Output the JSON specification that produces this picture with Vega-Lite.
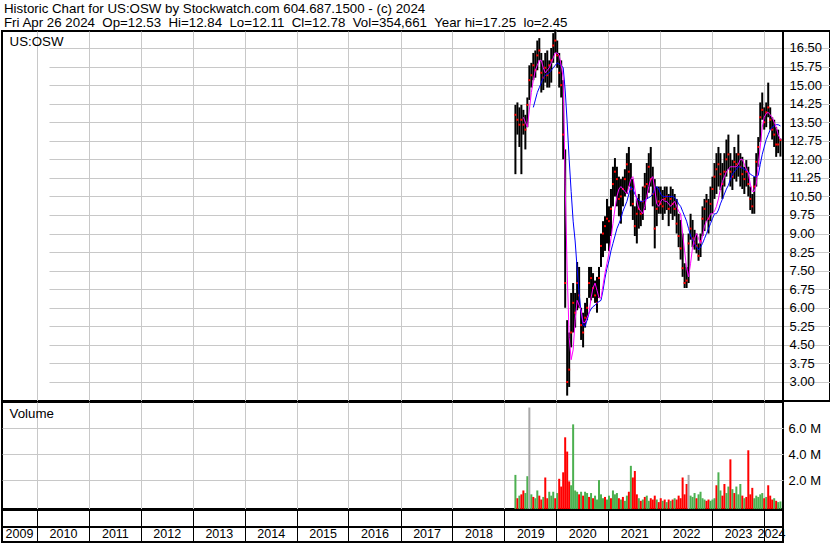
{
"$schema": "https://vega.github.io/schema/vega-lite/v6.json",
"padding": {"top": 2, "left": 0, "right": 0, "bottom": 0},
"background": "white",
"spacing": 1,
"bounds": "flush",
"title": {"text": ["Historic Chart for US:OSW by Stockwatch.com 604.687.1500 - (c) 2024", "Fri Apr 26 2024\u00a0 Op=12.53\u00a0 Hi=12.84\u00a0 Lo=12.11\u00a0 Cl=12.78\u00a0 Vol=354,661\u00a0 Year hi=17.25\u00a0 lo=2.45"], "anchor": "start", "frame": "group", "font": "Liberation Sans", "fontSize": 13.3, "fontWeight": "normal", "color": "black", "lineHeight": 14, "offset": -2, "dx": 2},
"config": {
  "view": {"stroke": "black", "strokeWidth": 2},
  "axis": {"labelFont": "Liberation Sans", "labelFontSize": 12, "labelColor": "black", "gridColor": "#C8C8C8", "gridOpacity": 1, "gridWidth": 1},
  "text": {"font": "Liberation Sans", "color": "black"}
},
"datasets": {
"px": [
{"d":"2019-03-20","h":14.2,"l":11.4,"c":13.8,"m1":null,"m2":null,"v":2.4,"s":"up"},
{"d":"2019-04-03","h":14.3,"l":13.0,"c":13.6,"m1":null,"m2":null,"v":0.6,"s":"down"},
{"d":"2019-04-17","h":14.1,"l":12.5,"c":13.4,"m1":null,"m2":null,"v":0.8,"s":"up"},
{"d":"2019-05-01","h":14.2,"l":11.4,"c":13.6,"m1":null,"m2":null,"v":0.9,"s":"down"},
{"d":"2019-05-15","h":14.0,"l":13.0,"c":13.4,"m1":13.7,"m2":null,"v":1.2,"s":"down"},
{"d":"2019-05-29","h":13.8,"l":12.4,"c":13.2,"m1":13.5,"m2":null,"v":1.0,"s":"up"},
{"d":"2019-06-12","h":14.5,"l":13.3,"c":14.2,"m1":13.3,"m2":null,"v":2.3,"s":"up"},
{"d":"2019-06-26","h":15.8,"l":14.4,"c":15.2,"m1":14.0,"m2":null,"v":7.6,"s":"flat"},
{"d":"2019-07-10","h":15.9,"l":14.9,"c":15.4,"m1":14.7,"m2":null,"v":0.9,"s":"up"},
{"d":"2019-07-24","h":16.3,"l":15.2,"c":15.8,"m1":15.2,"m2":14.1,"v":0.7,"s":"down"},
{"d":"2019-08-07","h":16.4,"l":15.3,"c":15.6,"m1":15.6,"m2":14.4,"v":0.6,"s":"up"},
{"d":"2019-08-21","h":16.8,"l":15.6,"c":16.2,"m1":15.8,"m2":14.7,"v":1.2,"s":"up"},
{"d":"2019-09-04","h":16.9,"l":16.0,"c":16.4,"m1":16.0,"m2":14.9,"v":0.8,"s":"down"},
{"d":"2019-09-18","h":16.3,"l":14.7,"c":15.5,"m1":16.0,"m2":15.1,"v":0.5,"s":"down"},
{"d":"2019-10-02","h":16.0,"l":14.8,"c":15.3,"m1":15.7,"m2":15.3,"v":0.7,"s":"up"},
{"d":"2019-10-16","h":16.3,"l":15.1,"c":15.7,"m1":15.5,"m2":15.4,"v":2.2,"s":"down"},
{"d":"2019-10-30","h":16.4,"l":14.9,"c":15.4,"m1":15.6,"m2":15.45,"v":0.6,"s":"down"},
{"d":"2019-11-13","h":16.0,"l":14.9,"c":15.8,"m1":15.7,"m2":15.5,"v":1.1,"s":"up"},
{"d":"2019-11-27","h":16.5,"l":15.1,"c":16.0,"m1":15.9,"m2":15.6,"v":0.8,"s":"up"},
{"d":"2019-12-11","h":17.1,"l":15.9,"c":16.6,"m1":16.1,"m2":15.7,"v":1.1,"s":"up"},
{"d":"2019-12-25","h":17.25,"l":16.3,"c":16.8,"m1":16.3,"m2":15.8,"v":0.6,"s":"down"},
{"d":"2020-01-08","h":16.8,"l":15.7,"c":16.2,"m1":16.3,"m2":15.9,"v":1.0,"s":"up"},
{"d":"2020-01-22","h":16.3,"l":14.9,"c":15.5,"m1":16.2,"m2":15.85,"v":2.1,"s":"down"},
{"d":"2020-02-05","h":16.0,"l":14.5,"c":15.0,"m1":15.8,"m2":15.8,"v":1.5,"s":"down"},
{"d":"2020-02-19","h":15.2,"l":12.0,"c":13.0,"m1":15.3,"m2":15.7,"v":2.6,"s":"down"},
{"d":"2020-03-04","h":12.4,"l":6.0,"c":7.0,"m1":11.0,"m2":14.8,"v":5.3,"s":"down"},
{"d":"2020-03-18","h":5.5,"l":2.45,"c":3.0,"m1":7.5,"m2":13.5,"v":4.2,"s":"down"},
{"d":"2020-04-01","h":5.0,"l":2.8,"c":3.5,"m1":4.8,"m2":12.0,"v":1.9,"s":"down"},
{"d":"2020-04-15","h":6.6,"l":4.4,"c":5.0,"m1":3.9,"m2":10.7,"v":1.6,"s":"up"},
{"d":"2020-04-29","h":7.0,"l":5.0,"c":6.2,"m1":4.3,"m2":9.5,"v":6.3,"s":"up"},
{"d":"2020-05-13","h":6.6,"l":5.2,"c":5.8,"m1":5.5,"m2":8.7,"v":1.2,"s":"up"},
{"d":"2020-05-27","h":7.85,"l":5.9,"c":7.0,"m1":6.3,"m2":7.6,"v":1.1,"s":"up"},
{"d":"2020-06-10","h":7.65,"l":6.0,"c":6.5,"m1":6.1,"m2":6.6,"v":0.9,"s":"down"},
{"d":"2020-06-24","h":6.0,"l":4.7,"c":5.3,"m1":5.9,"m2":5.8,"v":1.1,"s":"up"},
{"d":"2020-07-08","h":5.8,"l":4.4,"c":5.0,"m1":5.4,"m2":5.3,"v":0.8,"s":"down"},
{"d":"2020-07-22","h":6.2,"l":5.2,"c":5.6,"m1":5.4,"m2":5.25,"v":1.1,"s":"up"},
{"d":"2020-08-05","h":6.4,"l":5.5,"c":6.0,"m1":5.6,"m2":5.5,"v":1.0,"s":"up"},
{"d":"2020-08-19","h":7.65,"l":6.4,"c":7.0,"m1":5.8,"m2":5.8,"v":0.7,"s":"down"},
{"d":"2020-09-02","h":7.65,"l":6.3,"c":7.2,"m1":6.4,"m2":5.95,"v":1.0,"s":"up"},
{"d":"2020-09-16","h":7.4,"l":6.4,"c":6.8,"m1":6.8,"m2":6.05,"v":0.6,"s":"down"},
{"d":"2020-09-30","h":7.1,"l":6.2,"c":6.5,"m1":7.0,"m2":6.1,"v":0.8,"s":"up"},
{"d":"2020-10-14","h":7.25,"l":5.8,"c":6.2,"m1":6.7,"m2":6.2,"v":0.5,"s":"up"},
{"d":"2020-10-28","h":7.65,"l":6.4,"c":7.2,"m1":6.4,"m2":6.25,"v":2.0,"s":"up"},
{"d":"2020-11-11","h":9.0,"l":7.65,"c":8.5,"m1":6.4,"m2":6.3,"v":0.9,"s":"up"},
{"d":"2020-11-25","h":9.5,"l":8.05,"c":9.0,"m1":6.9,"m2":6.7,"v":0.6,"s":"up"},
{"d":"2020-12-09","h":9.7,"l":8.3,"c":9.3,"m1":7.4,"m2":7.2,"v":0.7,"s":"down"},
{"d":"2020-12-23","h":10.4,"l":8.6,"c":9.6,"m1":7.8,"m2":7.6,"v":0.5,"s":"up"},
{"d":"2021-01-06","h":10.1,"l":8.3,"c":9.5,"m1":8.2,"m2":7.9,"v":0.8,"s":"up"},
{"d":"2021-01-20","h":10.8,"l":8.9,"c":10.0,"m1":8.8,"m2":8.3,"v":0.6,"s":"down"},
{"d":"2021-02-03","h":11.7,"l":10.1,"c":11.0,"m1":9.4,"m2":8.6,"v":1.2,"s":"up"},
{"d":"2021-02-17","h":12.05,"l":10.5,"c":11.5,"m1":10.0,"m2":8.9,"v":0.9,"s":"up"},
{"d":"2021-03-03","h":11.7,"l":10.1,"c":11.2,"m1":10.5,"m2":9.2,"v":1.0,"s":"up"},
{"d":"2021-03-17","h":11.3,"l":9.7,"c":10.4,"m1":10.8,"m2":9.4,"v":0.6,"s":"down"},
{"d":"2021-03-31","h":11.2,"l":9.4,"c":10.5,"m1":10.9,"m2":9.6,"v":0.5,"s":"up"},
{"d":"2021-04-14","h":11.3,"l":10.1,"c":10.8,"m1":10.8,"m2":9.9,"v":0.7,"s":"down"},
{"d":"2021-04-28","h":11.6,"l":10.5,"c":11.2,"m1":10.7,"m2":10.1,"v":0.4,"s":"up"},
{"d":"2021-05-12","h":12.25,"l":10.6,"c":11.8,"m1":10.6,"m2":10.3,"v":0.8,"s":"up"},
{"d":"2021-05-26","h":12.5,"l":10.9,"c":11.5,"m1":10.9,"m2":10.6,"v":1.1,"s":"down"},
{"d":"2021-06-09","h":11.85,"l":10.1,"c":10.8,"m1":11.2,"m2":10.9,"v":3.1,"s":"up"},
{"d":"2021-06-23","h":11.2,"l":9.55,"c":10.2,"m1":11.3,"m2":10.8,"v":2.2,"s":"down"},
{"d":"2021-07-07","h":10.1,"l":8.9,"c":9.3,"m1":10.8,"m2":10.6,"v":2.7,"s":"down"},
{"d":"2021-07-21","h":10.4,"l":8.6,"c":9.8,"m1":10.3,"m2":10.45,"v":0.9,"s":"down"},
{"d":"2021-08-04","h":10.6,"l":9.2,"c":10.0,"m1":10.0,"m2":10.35,"v":0.6,"s":"up"},
{"d":"2021-08-18","h":10.3,"l":9.3,"c":9.8,"m1":9.9,"m2":10.3,"v":0.4,"s":"down"},
{"d":"2021-09-01","h":10.9,"l":9.55,"c":10.3,"m1":9.8,"m2":10.3,"v":0.5,"s":"up"},
{"d":"2021-09-15","h":11.45,"l":9.95,"c":10.9,"m1":10.1,"m2":10.35,"v":0.7,"s":"down"},
{"d":"2021-09-29","h":11.85,"l":10.4,"c":11.0,"m1":10.5,"m2":10.4,"v":0.8,"s":"up"},
{"d":"2021-10-13","h":12.25,"l":10.65,"c":11.7,"m1":10.9,"m2":10.45,"v":0.4,"s":"up"},
{"d":"2021-10-27","h":12.5,"l":10.9,"c":11.2,"m1":11.2,"m2":10.5,"v":0.6,"s":"down"},
{"d":"2021-11-10","h":11.7,"l":10.1,"c":10.6,"m1":11.3,"m2":10.6,"v":0.5,"s":"down"},
{"d":"2021-11-24","h":11.2,"l":8.4,"c":9.2,"m1":10.8,"m2":10.8,"v":0.8,"s":"down"},
{"d":"2021-12-08","h":10.9,"l":9.3,"c":10.0,"m1":10.2,"m2":10.9,"v":0.5,"s":"up"},
{"d":"2021-12-22","h":10.9,"l":9.8,"c":10.3,"m1":10.1,"m2":10.8,"v":0.3,"s":"down"},
{"d":"2022-01-05","h":10.9,"l":9.8,"c":10.2,"m1":10.3,"m2":10.6,"v":0.6,"s":"down"},
{"d":"2022-01-19","h":10.76,"l":9.55,"c":10.1,"m1":10.4,"m2":10.5,"v":0.4,"s":"up"},
{"d":"2022-02-02","h":10.9,"l":9.8,"c":10.4,"m1":10.3,"m2":10.5,"v":0.5,"s":"down"},
{"d":"2022-02-16","h":10.9,"l":9.95,"c":10.5,"m1":10.3,"m2":10.5,"v":0.3,"s":"up"},
{"d":"2022-03-02","h":10.6,"l":9.3,"c":10.0,"m1":10.2,"m2":10.5,"v":0.5,"s":"down"},
{"d":"2022-03-16","h":10.9,"l":9.8,"c":10.4,"m1":10.1,"m2":10.5,"v":0.4,"s":"up"},
{"d":"2022-03-30","h":10.8,"l":9.55,"c":10.2,"m1":10.2,"m2":10.5,"v":0.5,"s":"down"},
{"d":"2022-04-13","h":10.6,"l":9.7,"c":10.0,"m1":10.3,"m2":10.45,"v":0.6,"s":"up"},
{"d":"2022-04-27","h":10.4,"l":9.0,"c":9.4,"m1":10.1,"m2":10.35,"v":0.5,"s":"down"},
{"d":"2022-05-11","h":9.8,"l":8.45,"c":8.9,"m1":9.9,"m2":10.2,"v":0.8,"s":"down"},
{"d":"2022-05-25","h":9.55,"l":7.95,"c":8.4,"m1":9.8,"m2":10.1,"v":0.6,"s":"down"},
{"d":"2022-06-08","h":9.0,"l":7.25,"c":7.6,"m1":9.0,"m2":9.9,"v":2.2,"s":"down"},
{"d":"2022-06-22","h":7.8,"l":6.8,"c":7.0,"m1":8.3,"m2":9.7,"v":0.9,"s":"down"},
{"d":"2022-07-06","h":7.65,"l":6.8,"c":7.1,"m1":7.6,"m2":9.5,"v":1.7,"s":"down"},
{"d":"2022-07-20","h":9.0,"l":7.0,"c":8.6,"m1":7.25,"m2":9.2,"v":2.4,"s":"flat"},
{"d":"2022-08-03","h":9.8,"l":8.75,"c":9.2,"m1":7.8,"m2":8.9,"v":0.8,"s":"up"},
{"d":"2022-08-17","h":9.55,"l":8.45,"c":8.8,"m1":8.45,"m2":8.75,"v":0.7,"s":"up"},
{"d":"2022-08-31","h":9.15,"l":8.35,"c":8.6,"m1":8.8,"m2":8.6,"v":1.0,"s":"up"},
{"d":"2022-09-14","h":9.0,"l":8.2,"c":8.5,"m1":9.0,"m2":8.45,"v":0.6,"s":"down"},
{"d":"2022-09-28","h":8.6,"l":7.9,"c":8.1,"m1":8.8,"m2":8.35,"v":0.9,"s":"up"},
{"d":"2022-10-12","h":9.0,"l":8.05,"c":8.7,"m1":8.6,"m2":8.45,"v":1.1,"s":"up"},
{"d":"2022-10-26","h":10.1,"l":8.9,"c":9.6,"m1":8.9,"m2":8.6,"v":0.6,"s":"up"},
{"d":"2022-11-09","h":10.4,"l":9.1,"c":10.0,"m1":9.3,"m2":8.8,"v":0.5,"s":"up"},
{"d":"2022-11-23","h":10.6,"l":9.5,"c":10.3,"m1":9.5,"m2":9.0,"v":0.4,"s":"down"},
{"d":"2022-12-07","h":10.4,"l":9.0,"c":9.6,"m1":9.6,"m2":9.2,"v":0.5,"s":"down"},
{"d":"2022-12-21","h":10.9,"l":9.5,"c":10.2,"m1":9.8,"m2":9.4,"v":0.4,"s":"up"},
{"d":"2023-01-04","h":11.3,"l":9.8,"c":10.8,"m1":9.8,"m2":9.6,"v":0.5,"s":"up"},
{"d":"2023-01-18","h":11.85,"l":10.4,"c":11.3,"m1":9.9,"m2":9.8,"v":0.6,"s":"up"},
{"d":"2023-02-01","h":12.25,"l":10.6,"c":11.6,"m1":10.1,"m2":9.8,"v":1.6,"s":"down"},
{"d":"2023-02-15","h":12.5,"l":10.9,"c":11.8,"m1":10.4,"m2":9.95,"v":2.6,"s":"up"},
{"d":"2023-03-01","h":12.25,"l":10.76,"c":11.4,"m1":10.8,"m2":10.2,"v":1.2,"s":"up"},
{"d":"2023-03-15","h":11.85,"l":10.4,"c":11.0,"m1":11.1,"m2":10.4,"v":0.8,"s":"down"},
{"d":"2023-03-29","h":12.25,"l":10.9,"c":11.5,"m1":11.3,"m2":10.6,"v":1.7,"s":"down"},
{"d":"2023-04-12","h":12.8,"l":11.3,"c":12.0,"m1":11.5,"m2":10.8,"v":1.0,"s":"up"},
{"d":"2023-04-26","h":13.0,"l":11.6,"c":12.2,"m1":11.6,"m2":10.95,"v":1.5,"s":"up"},
{"d":"2023-05-10","h":12.25,"l":10.9,"c":11.5,"m1":11.7,"m2":11.2,"v":3.6,"s":"down"},
{"d":"2023-05-24","h":11.97,"l":10.76,"c":11.3,"m1":11.7,"m2":11.4,"v":1.3,"s":"up"},
{"d":"2023-06-07","h":12.5,"l":11.2,"c":11.9,"m1":11.7,"m2":11.5,"v":1.0,"s":"down"},
{"d":"2023-06-21","h":12.25,"l":11.1,"c":11.8,"m1":11.7,"m2":11.6,"v":1.5,"s":"up"},
{"d":"2023-07-05","h":13.0,"l":11.3,"c":12.2,"m1":11.8,"m2":11.7,"v":0.9,"s":"up"},
{"d":"2023-07-19","h":12.25,"l":10.9,"c":11.7,"m1":12.0,"m2":11.7,"v":1.7,"s":"up"},
{"d":"2023-08-02","h":12.1,"l":10.8,"c":11.4,"m1":12.0,"m2":11.65,"v":0.8,"s":"down"},
{"d":"2023-08-16","h":11.7,"l":10.6,"c":11.2,"m1":11.8,"m2":11.6,"v":0.6,"s":"up"},
{"d":"2023-08-30","h":11.97,"l":10.9,"c":11.5,"m1":11.6,"m2":11.55,"v":0.7,"s":"down"},
{"d":"2023-09-13","h":11.7,"l":10.5,"c":11.0,"m1":11.45,"m2":11.5,"v":4.3,"s":"down"},
{"d":"2023-09-27","h":10.9,"l":9.95,"c":10.4,"m1":11.0,"m2":11.4,"v":0.9,"s":"down"},
{"d":"2023-10-11","h":10.6,"l":9.8,"c":10.1,"m1":10.7,"m2":11.35,"v":1.4,"s":"down"},
{"d":"2023-10-25","h":11.3,"l":9.8,"c":10.9,"m1":10.7,"m2":11.3,"v":0.6,"s":"up"},
{"d":"2023-11-08","h":12.25,"l":10.9,"c":11.9,"m1":11.0,"m2":11.3,"v":0.8,"s":"up"},
{"d":"2023-11-22","h":12.9,"l":11.7,"c":12.5,"m1":11.8,"m2":11.35,"v":0.7,"s":"up"},
{"d":"2023-12-06","h":14.3,"l":12.7,"c":13.7,"m1":12.5,"m2":11.8,"v":0.9,"s":"up"},
{"d":"2023-12-20","h":14.7,"l":13.6,"c":14.0,"m1":13.3,"m2":12.2,"v":1.0,"s":"up"},
{"d":"2024-01-03","h":14.1,"l":13.2,"c":13.5,"m1":13.7,"m2":12.5,"v":0.6,"s":"down"},
{"d":"2024-01-17","h":14.3,"l":13.3,"c":13.9,"m1":13.85,"m2":12.8,"v":0.7,"s":"up"},
{"d":"2024-01-31","h":15.1,"l":13.7,"c":14.1,"m1":13.9,"m2":13.0,"v":1.6,"s":"down"},
{"d":"2024-02-14","h":14.1,"l":13.2,"c":13.6,"m1":13.8,"m2":13.2,"v":0.8,"s":"down"},
{"d":"2024-02-28","h":13.7,"l":12.8,"c":13.2,"m1":13.7,"m2":13.3,"v":0.5,"s":"down"},
{"d":"2024-03-13","h":13.6,"l":12.5,"c":13.0,"m1":13.5,"m2":13.35,"v":0.6,"s":"up"},
{"d":"2024-03-27","h":13.3,"l":12.1,"c":12.6,"m1":13.3,"m2":13.4,"v":0.4,"s":"down"},
{"d":"2024-04-10","h":13.2,"l":12.25,"c":12.6,"m1":13.0,"m2":13.4,"v":0.3,"s":"up"},
{"d":"2024-04-26","h":12.84,"l":12.11,"c":12.78,"m1":12.8,"m2":13.35,"v":0.35,"s":"up"}
]
},
"vconcat": [
{
  "width": 828, "height": 370,
  "data": {"name": "px"},
  "layer": [
    {
      "mark": {"type": "rule", "color": "black", "strokeWidth": 2},
      "encoding": {
        "x": {"field": "d", "type": "temporal",
          "scale": {"type": "utc", "domain": [{"year": 2009, "month": 4, "date": 30, "utc": true}, {"year": 2024, "month": 5, "date": 14, "utc": true}], "range": [0, 781]},
          "axis": {"values": [{"year":2010,"month":1,"date":1,"utc":true},{"year":2011,"month":1,"date":1,"utc":true},{"year":2012,"month":1,"date":1,"utc":true},{"year":2013,"month":1,"date":1,"utc":true},{"year":2014,"month":1,"date":1,"utc":true},{"year":2015,"month":1,"date":1,"utc":true},{"year":2016,"month":1,"date":1,"utc":true},{"year":2017,"month":1,"date":1,"utc":true},{"year":2018,"month":1,"date":1,"utc":true},{"year":2019,"month":1,"date":1,"utc":true},{"year":2020,"month":1,"date":1,"utc":true},{"year":2021,"month":1,"date":1,"utc":true},{"year":2022,"month":1,"date":1,"utc":true},{"year":2023,"month":1,"date":1,"utc":true},{"year":2024,"month":1,"date":1,"utc":true}],
            "tickCount": 40, "grid": true, "labels": false, "ticks": false, "tickSize": 0, "domain": false, "title": null}},
        "y": {"field": "l", "type": "quantitative",
          "scale": {"domain": [2.232, 17.187], "nice": false, "zero": false},
          "axis": {"orient": "right", "values": [3, 3.75, 4.5, 5.25, 6, 6.75, 7.5, 8.25, 9, 9.75, 10.5, 11.25, 12, 12.75, 13.5, 14.25, 15, 15.75, 16.5], "tickCount": 40, "format": ".2f", "grid": true, "ticks": false, "tickSize": 0, "domain": false, "labelPadding": -41, "labelAlign": "left", "labelBaseline": "middle", "labelFlush": false, "labelOverlap": false, "labelFontSize": 13, "title": null}},
        "y2": {"field": "h"}
      }
    },
    {
      "mark": {"type": "square", "color": "#FF0000", "size": 4, "opacity": 1},
      "encoding": {
        "x": {"field": "d", "type": "temporal"},
        "y": {"field": "c", "type": "quantitative"}
      }
    },
    {
      "mark": {"type": "line", "color": "#0000FF", "strokeWidth": 1},
      "encoding": {
        "x": {"field": "d", "type": "temporal"},
        "y": {"field": "m2", "type": "quantitative"}
      }
    },
    {
      "mark": {"type": "line", "color": "#FF00FF", "strokeWidth": 1},
      "encoding": {
        "x": {"field": "d", "type": "temporal"},
        "y": {"field": "m1", "type": "quantitative"}
      }
    },
    {
      "data": {"values": [{}]},
      "mark": {"type": "rule", "color": "black", "strokeWidth": 2},
      "encoding": {
        "x": {"datum": {"year": 2024, "month": 5, "date": 14, "utc": true}, "type": "temporal"}
      }
    },
    {
      "data": {"values": [{}]},
      "mark": {"type": "text", "align": "left", "baseline": "alphabetic", "fontSize": 13.3, "font": "Liberation Sans", "color": "black"},
      "encoding": {
        "x": {"datum": {"year": 2009, "month": 6, "date": 22, "utc": true}, "type": "temporal"},
        "y": {"datum": 16.59, "type": "quantitative"},
        "text": {"value": "US:OSW"}
      }
    }
  ]
},
{
  "width": 781, "height": 107,
  "data": {"name": "px"},
  "layer": [
    {
      "mark": {"type": "rule", "strokeWidth": 2},
      "encoding": {
        "x": {"field": "d", "type": "temporal",
          "scale": {"type": "utc", "domain": [{"year": 2009, "month": 4, "date": 30, "utc": true}, {"year": 2024, "month": 5, "date": 14, "utc": true}]},
          "axis": {"values": [{"year":2010,"month":1,"date":1,"utc":true},{"year":2011,"month":1,"date":1,"utc":true},{"year":2012,"month":1,"date":1,"utc":true},{"year":2013,"month":1,"date":1,"utc":true},{"year":2014,"month":1,"date":1,"utc":true},{"year":2015,"month":1,"date":1,"utc":true},{"year":2016,"month":1,"date":1,"utc":true},{"year":2017,"month":1,"date":1,"utc":true},{"year":2018,"month":1,"date":1,"utc":true},{"year":2019,"month":1,"date":1,"utc":true},{"year":2020,"month":1,"date":1,"utc":true},{"year":2021,"month":1,"date":1,"utc":true},{"year":2022,"month":1,"date":1,"utc":true},{"year":2023,"month":1,"date":1,"utc":true},{"year":2024,"month":1,"date":1,"utc":true}],
            "tickCount": 40, "grid": true, "labels": false, "ticks": false, "tickSize": 0, "domain": false, "title": null}},
        "y": {"field": "v", "type": "quantitative",
          "scale": {"domain": [-0.231, 8.025], "nice": false, "zero": false},
          "axis": {"orient": "right", "values": [2, 4, 6], "tickCount": 40, "labelExpr": "format(datum.value, '.1f') + ' M'", "grid": true, "ticks": false, "tickSize": 0, "domain": false, "labelPadding": 5, "labelAlign": "left", "labelBaseline": "middle", "labelFontSize": 13, "title": null}},
        "y2": {"datum": -0.231},
        "color": {"field": "s", "type": "nominal", "scale": {"domain": ["up", "down", "flat"], "range": ["#4CB050", "#FF0000", "#A8A8A8"]}, "legend": null}
      }
    },
    {
      "data": {"values": [{}]},
      "mark": {"type": "text", "align": "left", "baseline": "alphabetic", "fontSize": 13.3, "font": "Liberation Sans", "color": "black"},
      "encoding": {
        "x": {"datum": {"year": 2009, "month": 6, "date": 22, "utc": true}, "type": "temporal"},
        "y": {"datum": 6.79, "type": "quantitative"},
        "text": {"value": "Volume"}
      }
    }
  ]
},
{
  "width": 781, "height": 32,
  "data": {"values": [{}]},
  "mark": {"type": "rule", "color": "black", "strokeWidth": 2},
  "encoding": {
    "x": {"datum": {"year": 2009, "month": 4, "date": 30, "utc": true}, "type": "temporal",
      "scale": {"type": "utc", "domain": [{"year": 2009, "month": 4, "date": 30, "utc": true}, {"year": 2024, "month": 5, "date": 14, "utc": true}]},
      "axis": {"orient": "bottom", "values": [{"year":2009,"month":4,"date":30,"utc":true},{"year":2010,"month":1,"date":1,"utc":true},{"year":2011,"month":1,"date":1,"utc":true},{"year":2012,"month":1,"date":1,"utc":true},{"year":2013,"month":1,"date":1,"utc":true},{"year":2014,"month":1,"date":1,"utc":true},{"year":2015,"month":1,"date":1,"utc":true},{"year":2016,"month":1,"date":1,"utc":true},{"year":2017,"month":1,"date":1,"utc":true},{"year":2018,"month":1,"date":1,"utc":true},{"year":2019,"month":1,"date":1,"utc":true},{"year":2020,"month":1,"date":1,"utc":true},{"year":2021,"month":1,"date":1,"utc":true},{"year":2022,"month":1,"date":1,"utc":true},{"year":2023,"month":1,"date":1,"utc":true},{"year":2024,"month":1,"date":1,"utc":true}],
        "tickCount": 40, "format": "%Y", "grid": true, "gridColor": "black", "gridWidth": 1, "ticks": false, "tickSize": 0, "domain": false,
        "labelPadding": -4.3, "labelBaseline": "alphabetic", "labelAlign": "center", "labelFontSize": 12.5,
        "labelOffset": {"condition": [{"test": "utcyear(datum.value) === 2009", "value": 17}, {"test": "utcyear(datum.value) === 2024", "value": 7}], "value": 26},
        "labelFlush": false, "labelOverlap": false, "labelBound": false, "title": null}},
    "x2": {"datum": {"year": 2024, "month": 5, "date": 14, "utc": true}},
    "y": {"datum": 0.469, "type": "quantitative", "scale": {"domain": [0, 1], "nice": false, "zero": false}, "axis": null}
  }
}
]
}
